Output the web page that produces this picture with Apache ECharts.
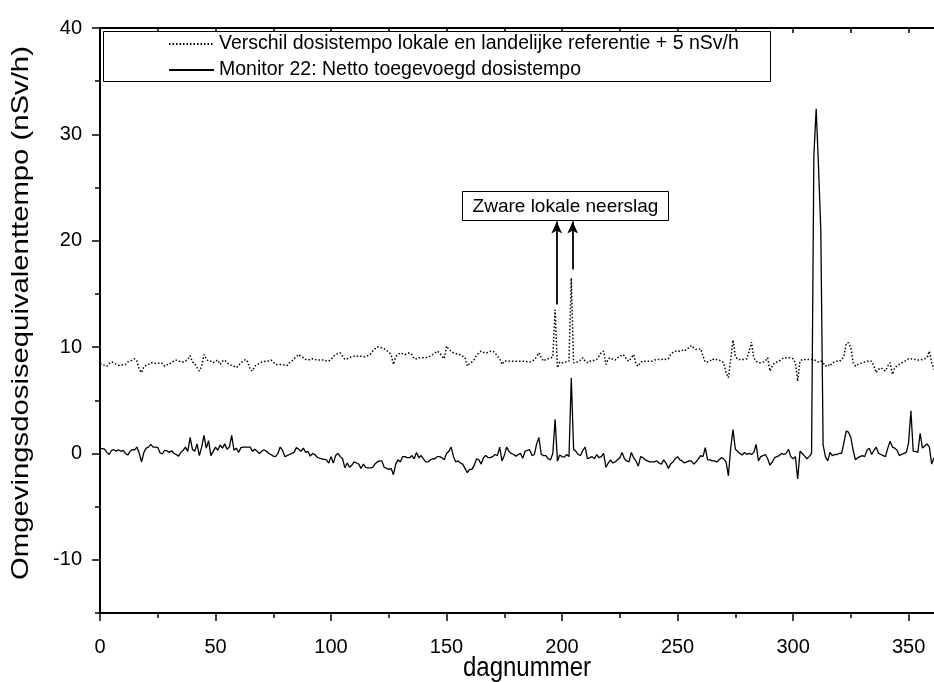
<!DOCTYPE html>
<html><head><meta charset="utf-8">
<script src="https://cdn.jsdelivr.net/npm/echarts@6/dist/echarts.min.js"></script>
<style>html,body{margin:0;padding:0;background:#fff}#c{width:934px;height:682px}</style>
</head><body><div id="c"></div>
<script>
const FONT = "'Liberation Sans', Arial, sans-serif";
const xMajorTicks = [0,50,100,150,200,250,300,350];
const xMinorTicks = [25,75,125,175,225,275,325];
const yMajorTicks = [-10,0,10,20,30,40];
const yMinorTicks = [-15,-5,5,15,25,35];
const seriesNames = ['Verschil dosistempo lokale en landelijke referentie + 5 nSv/h','Monitor 22: Netto toegevoegd dosistempo'];
const xAxisTitle = 'dagnummer';
const yAxisTitle = 'Omgevingsdosisequivalenttempo (nSv/h)';
const annotationText = 'Zware lokale neerslag';
// arrows: [day, from value, to value]
const arrowDays = [197.7, 204.6];
const arrowFrom = [14.0, 17.3];
const arrowTo = [21.8, 21.8];

const verschil = [
8.43,8.37,8.28,8.2,8.46,8.6,8.53,8.37,8.3,8.28,
8.35,8.37,8.6,8.68,8.78,8.9,8.68,7.9,7.6,8.15,
8.28,8.37,8.53,8.53,8.46,8.46,8.53,8.46,8.2,8.35,
8.37,8.6,8.68,8.78,8.68,8.65,8.6,8.68,8.84,9.2,
8.6,8.46,8.06,7.75,8.2,9.3,8.9,8.68,8.68,8.53,
8.68,8.78,8.37,8.68,8.78,8.53,8.37,8.28,8.2,8.06,
8.28,8.53,8.68,8.84,8.6,7.9,7.75,8.2,8.37,8.46,
8.6,8.65,8.68,8.7,8.78,8.6,8.37,8.37,8.37,8.37,
8.3,8.28,8.53,8.68,8.9,9.1,9.3,9.1,9.0,8.84,
8.84,8.78,8.9,8.84,8.78,8.78,8.78,8.78,8.7,8.68,
8.84,9.1,9.3,9.4,9.46,9.15,8.84,8.9,9.0,9.1,
9.15,9.15,9.15,9.15,9.1,9.1,9.2,9.3,9.62,9.84,
10.03,9.97,9.94,9.84,9.7,9.5,9.3,8.37,9.1,9.3,
9.46,9.37,9.3,9.4,9.46,9.3,8.9,8.9,9.0,9.0,
9.0,9.0,9.1,9.15,9.3,9.46,9.62,9.46,9.15,8.9,
10.1,9.78,9.62,9.46,9.4,9.3,9.28,9.15,9.0,8.21,
8.46,8.6,8.84,9.22,9.46,9.62,9.5,9.46,9.5,9.62,
9.62,9.46,9.15,8.9,8.37,8.68,8.7,8.68,8.68,8.68,
8.68,8.68,8.68,8.68,8.65,8.62,8.59,8.68,8.78,9.1,
9.46,9.0,8.68,8.84,8.9,9.0,9.05,13.5,8.06,8.59,
8.53,8.59,8.59,8.68,16.5,8.53,8.53,8.68,8.78,9.0,
8.68,8.53,8.68,8.68,8.78,8.84,9.15,9.5,9.62,8.37,
8.9,9.0,8.84,8.78,9.0,9.1,9.3,9.2,8.78,8.68,
9.0,9.3,8.37,8.21,8.59,8.68,8.68,8.68,8.68,8.68,
8.78,8.84,8.84,8.84,8.9,8.84,8.9,9.3,9.5,9.62,
9.62,9.62,9.7,9.62,9.84,9.94,10.16,9.94,9.78,9.78,
9.84,9.15,8.59,8.59,8.68,8.9,8.78,8.84,8.78,8.68,
8.53,7.59,7.12,8.84,10.66,9.15,8.84,8.84,8.84,8.84,
8.9,9.62,10.47,9.0,8.68,8.53,8.53,8.59,8.68,9.0,
7.75,8.21,8.53,8.59,8.68,8.84,9.0,9.0,9.0,9.0,
8.9,8.53,6.8,8.68,8.84,8.84,8.84,8.84,8.84,8.84,
8.68,8.59,8.68,8.53,8.21,8.37,8.21,8.53,8.59,8.68,
8.68,8.78,9.15,10.35,10.4,9.94,8.53,8.21,8.37,8.46,
8.53,8.59,8.68,8.68,8.68,8.21,7.59,7.9,8.06,7.9,
7.75,8.21,8.53,7.43,8.06,8.21,8.37,8.53,8.59,8.78,
8.9,8.9,8.84,8.84,8.78,8.78,8.84,8.9,9.0,9.62,
8.53,7.9
];

const netto = [
0.45,0.45,0.4,0.1,-0.1,0.3,0.35,0.2,0.35,0.2,
0.3,0.0,-0.15,0.2,0.35,0.35,0.6,0.0,-0.8,0.1,
0.5,0.6,0.85,0.6,0.6,0.55,0.05,-0.05,0.3,0.25,
0.1,0.25,0.0,-0.1,-0.25,0.1,0.3,0.6,0.2,1.5,
0.4,0.2,0.9,-0.2,0.6,1.7,0.5,1.2,-0.2,0.2,
0.6,0.3,0.8,0.5,0.9,0.4,0.6,1.7,0.3,0.5,
0.1,0.55,0.6,0.6,0.6,0.6,0.2,0.4,0.2,0.0,
0.2,0.35,0.2,0.0,-0.1,-0.25,-0.3,0.0,0.6,0.3,
-0.3,-0.2,-0.1,0.0,0.1,0.55,0.4,0.2,0.5,0.1,
0.2,-0.25,0.0,-0.1,-0.35,-0.45,-0.5,-0.55,-0.6,-0.9,
-0.3,-0.9,-0.2,0.0,-0.3,-0.5,-1.35,-0.9,-1.3,-1.1,
-0.8,-0.9,-1.0,-1.4,-1.0,-1.3,-1.35,-1.35,-1.3,-1.0,
-0.8,-0.7,-0.7,-1.3,-1.4,-1.5,-1.4,-2.0,-1.0,-0.6,
-0.8,-0.3,-0.3,-0.4,-0.4,-0.2,-0.5,0.1,-0.4,-0.2,
-0.5,-0.8,-0.8,-0.6,-0.5,-0.5,-0.3,-0.3,-0.4,-0.6,
0.0,0.2,0.6,-0.3,-0.8,-0.7,-0.9,-1.0,-1.4,-1.8,
-1.5,-1.5,-1.1,-0.5,-0.6,-1.0,-0.4,-0.2,-0.4,-0.4,
-0.3,-0.1,-0.2,0.6,-0.7,-0.2,0.6,0.2,0.0,-0.1,
-0.25,-0.1,0.0,-0.45,0.2,0.3,0.35,-0.2,-0.1,0.9,
1.5,-0.1,-0.2,-0.2,-0.5,-0.6,0.0,3.2,-0.7,-0.15,
-0.3,-0.35,-0.1,-0.3,7.1,0.4,0.2,-0.1,-0.2,0.3,
0.6,-0.5,-0.4,-0.3,-0.5,-0.1,-0.4,-0.3,0.0,-1.3,
-0.9,-0.6,-0.9,-0.8,-0.6,-0.4,0.1,-0.5,-0.7,-0.8,
0.1,-0.4,-0.7,-1.2,-0.3,-0.4,-0.6,-0.7,-0.8,-0.8,
-0.8,-0.7,-0.9,-1.0,-0.6,-0.9,-1.4,-1.0,-0.8,-0.5,
-0.3,-0.6,-0.7,-0.9,-0.8,-0.7,-0.7,-1.0,-0.8,-0.5,
-0.2,-0.3,0.55,-0.6,-0.6,-0.7,-0.7,-0.8,-0.6,-0.4,
-0.5,-0.8,-2.1,0.5,2.25,0.4,0.2,0.0,-0.15,0.1,
-0.1,0.0,-0.1,0.1,0.85,-0.7,-0.3,-0.2,-0.1,-0.5,
-1.1,-0.8,-0.4,-0.3,-0.2,0.0,-0.1,0.0,0.4,-0.3,
-0.5,-0.3,-2.4,0.2,0.0,-0.25,-0.5,-0.3,0.0,28,
32.4,27,21,0.8,-0.3,-0.7,0.1,-0.2,-0.1,-0.1,
0.0,0.0,1.0,2.1,2.0,1.5,0.3,-0.6,-0.4,-0.3,
-0.2,-0.3,0.3,0.5,-0.1,0.3,0.6,0.0,-0.1,-0.2,
-0.3,0.5,1.15,0.6,0.5,0.3,-0.2,-0.1,0.0,0.1,
1.0,4.0,0.2,0.2,0.1,1.9,0.5,0.7,0.9,0.6,
-1.0,-0.4
];

const toPairs = a => a.map((v, i) => [i, v]);
const black = '#000';
const labelStyle = {color: black, fontSize: 20, fontFamily: FONT};

const chart = echarts.init(document.getElementById('c'), null, {renderer: 'canvas'});
chart.setOption({
  animation: false,
  backgroundColor: '#fff',
  grid: {left: 100, right: 0, top: 28, bottom: 69, containLabel: false},
  xAxis: [
    {type: 'value', min: 0, max: 361, position: 'bottom',
     axisLine: {show: true, onZero: false, lineStyle: {color: black, width: 2}},
     axisTick: {show: true, customValues: xMajorTicks, length: 8, lineStyle: {color: black, width: 1.5}},
     axisLabel: {customValues: xMajorTicks, margin: 24, ...labelStyle},
     splitLine: {show: false}},
    {type: 'value', min: 0, max: 361, position: 'bottom',
     axisLine: {show: false, onZero: false},
     axisTick: {show: true, customValues: xMinorTicks, length: 5, lineStyle: {color: black, width: 1.5}},
     axisLabel: {show: false}, splitLine: {show: false}},
    {type: 'value', min: 0, max: 361, position: 'top',
     axisLine: {show: true, onZero: false, lineStyle: {color: black, width: 2}},
     axisTick: {show: true, inside: true, customValues: xMinorTicks.concat(xMajorTicks), length: 5, lineStyle: {color: black, width: 1.5}},
     axisLabel: {show: false}, splitLine: {show: false}}
  ],
  yAxis: [
    {type: 'value', min: -15, max: 40, position: 'left',
     axisLine: {show: true, onZero: false, lineStyle: {color: black, width: 2}},
     axisTick: {show: true, customValues: yMajorTicks, length: 8, lineStyle: {color: black, width: 1.5}},
     axisLabel: {customValues: yMajorTicks, margin: 18, ...labelStyle},
     splitLine: {show: false}},
    {type: 'value', min: -15, max: 40, position: 'left',
     axisLine: {show: false, onZero: false},
     axisTick: {show: true, customValues: yMinorTicks, length: 5, lineStyle: {color: black, width: 1.5}},
     axisLabel: {show: false}, splitLine: {show: false}}
  ],
  legend: {
    orient: 'vertical', left: 163, top: 29, itemWidth: 45, itemHeight: 14, itemGap: 6,
    itemStyle: {opacity: 0, color: 'rgba(0,0,0,0)', borderWidth: 0},
    data: seriesNames, textStyle: {color: black, fontSize: 19.5, fontFamily: FONT},
    selectedMode: false
  },
  graphic: [
    {type: 'rect', left: 103, top: 31, z: 1, shape: {width: 667, height: 50},
     style: {fill: '#fff', stroke: black, lineWidth: 1}},
    {type: 'group', left: 462, top: 191, z: 5, children: [
      {type: 'rect', shape: {x: 0, y: 0, width: 206, height: 29}, style: {fill: '#fff', stroke: black, lineWidth: 1}},
      {type: 'text', x: 103, y: 15, style: {text: annotationText, fill: black, font: '19px ' + FONT, align: 'center', verticalAlign: 'middle'}}
    ]},
    {type: 'text', x: 21, y: 313, rotation: Math.PI / 2, scaleX: 1.22, z: 5,
     style: {text: yAxisTitle, fill: black, font: '24px ' + FONT, align: 'center', verticalAlign: 'middle'}},
    {type: 'text', x: 527, y: 668, scaleY: 1.15, z: 5,
     style: {text: xAxisTitle, fill: black, font: '24px ' + FONT, align: 'center', verticalAlign: 'middle'}}
  ],
  series: [
    {name: seriesNames[0], type: 'line', xAxisIndex: 0, yAxisIndex: 0, data: toPairs(verschil),
     symbol: 'none', showSymbol: false, z: 3, itemStyle: {color: '#000'},
     lineStyle: {color: '#000', width: 1.5, type: [1.5, 2]}},
    {name: seriesNames[1], type: 'line', xAxisIndex: 0, yAxisIndex: 0, data: toPairs(netto),
     symbol: 'none', showSymbol: false, z: 3, itemStyle: {color: black},
     lineStyle: {color: black, width: 1.3, type: 'solid'},
     markLine: {silent: true, symbol: ['none', 'arrow'], symbolSize: [8, 12], animation: false,
       label: {show: false},
       lineStyle: {color: black, width: 1.8, type: 'solid'},
       data: arrowDays.map((d, i) => [{coord: [d, arrowFrom[i]]}, {coord: [d, arrowTo[i]]}])}}
  ]
});
</script></body></html>
